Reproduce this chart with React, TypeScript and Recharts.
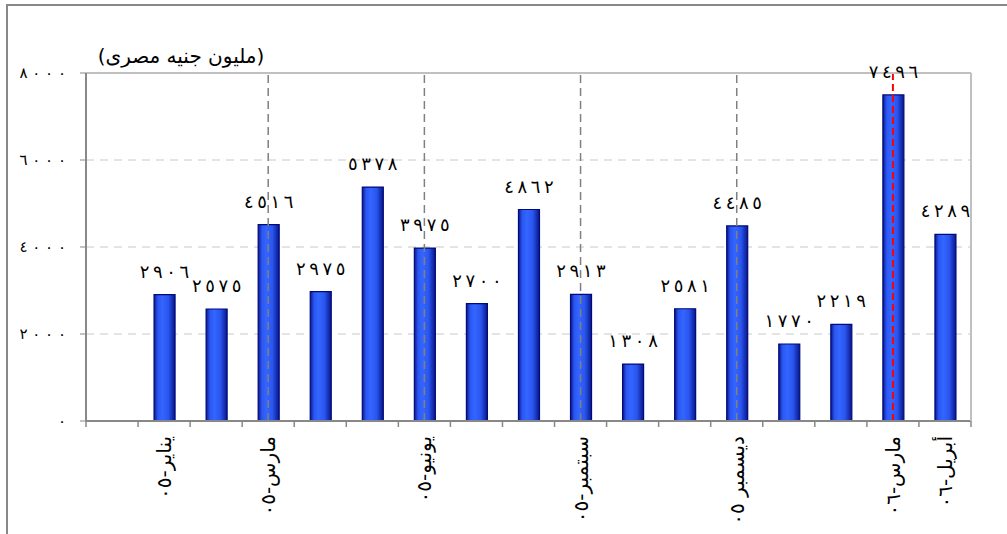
import React from 'react';
import { BarChart, Bar, XAxis, YAxis, CartesianGrid, ReferenceLine, LabelList } from 'recharts';

// first slot is an empty lead-in column, like the original chart
const months = ['pad', '2005-01', '2005-02', '2005-03', '2005-04', '2005-05', '2005-06', '2005-07', '2005-08', '2005-09', '2005-10', '2005-11', '2005-12', '2006-01', '2006-02', '2006-03', '2006-04'];
const monthLabels = ['', 'يناير-٠٥', '', 'مارس-٠٥', '', '', 'يونيو-٠٥', '', '', 'سبتمبر-٠٥', '', '', 'ديسمبر ٠٥', '', '', 'مارس-٠٦', 'أبريل-٠٦'];
const values = [null, 2906, 2575, 4516, 2975, 5378, 3975, 2700, 4862, 2913, 1308, 2581, 4485, 1770, 2219, 7496, 4289];
const yTicks = [0, 2000, 4000, 6000, 8000];
const quarterMarks = ['2005-03', '2005-06', '2005-09', '2005-12'];
const highlightMonth = '2006-03';
const unitTitle = '(مليون جنيه مصرى)';

const FONT = "'DejaVu Sans', sans-serif";

// arabic-indic digits spaced out with non-breaking spaces (recharts wraps on normal ones);
// LRO keeps the digit order, chrome ignores letter-spacing for arabic script
const arabicDigits = (v: any, gap: string) => {
  if (v === null || v === undefined) return '';
  const s = String(v).replace(/\d/g, (d) => '٠١٢٣٤٥٦٧٨٩'[+d]);
  return '\u202D' + s.split('').join(gap) + '\u202C';
};
const axisDigits = (v: any) => arabicDigits(v, '\u00A0');
const labelDigits = (v: any) => arabicDigits(v, '\u2009');

const data = months.map((m, i) => ({ month: m, value: values[i] }));

// category ticks sit between columns (excel style), labels run vertically
const MonthTick = (props: any) => {
  const { x, y, payload, index } = props;
  const half = payload.offset || 0;
  const label = monthLabels[months.indexOf(payload.value)];
  const ty = y + 15;
  return (
    <g>
      <line x1={x - half} x2={x - half} y1={y} y2={y + 6} stroke="#888" strokeWidth={1.5} />
      {index === months.length - 1 && (
        <line x1={x + half} x2={x + half} y1={y} y2={y + 6} stroke="#888" strokeWidth={1.5} />
      )}
      {label && (
        <text
          x={x}
          y={ty}
          dy={7}
          transform={`rotate(-90, ${x}, ${ty})`}
          textAnchor="end"
          fontSize={20}
          fontFamily={FONT}
          fill="#000"
        >
          {label}
        </text>
      )}
    </g>
  );
};

export default function App() {
  return (
    <div style={{ position: 'absolute', left: 0, top: 0, width: 1007, height: 534, background: '#fff' }}>
      <div
        style={{
          position: 'absolute',
          left: 6,
          top: 4,
          right: 0,
          bottom: 0,
          borderTop: '2px solid #888',
          borderLeft: '2px solid #888',
        }}
      />
      <div
        dir="rtl"
        style={{
          position: 'absolute',
          left: 81,
          top: 44,
          width: 200,
          textAlign: 'center',
          fontFamily: FONT,
          fontSize: 20,
          color: '#000',
        }}
      >
        {unitTitle}
      </div>
      <BarChart
        width={1007}
        height={534}
        data={data}
        margin={{ top: 72, right: 35, left: 8, bottom: 13 }}
        barCategoryGap={0}
        style={{ position: 'absolute', left: 0, top: 0 }}
      >
        <defs>
          <linearGradient id="barFill" x1="0" y1="0" x2="1" y2="0">
            <stop offset="0%" stopColor="#0a1a8c" />
            <stop offset="18%" stopColor="#2b56f2" />
            <stop offset="40%" stopColor="#3366ff" />
            <stop offset="68%" stopColor="#2a55ee" />
            <stop offset="100%" stopColor="#07178a" />
          </linearGradient>
        </defs>
        <CartesianGrid horizontal vertical={false} stroke="#c8c8c8" strokeDasharray="8 6" />
        <XAxis
          xAxisId="top"
          orientation="top"
          dataKey="month"
          height={1}
          tick={false}
          tickLine={false}
          axisLine={{ stroke: '#c0c0c0', strokeWidth: 2 }}
        />
        <XAxis
          dataKey="month"
          height={100}
          interval={0}
          tickSize={0}
          tickMargin={0}
          axisLine={{ stroke: '#888', strokeWidth: 2 }}
          tickLine={false}
          tick={<MonthTick />}
        />
        <YAxis
          width={78}
          domain={[0, 8000]}
          ticks={yTicks}
          interval={0}
          tickFormatter={axisDigits}
          tick={{ fontSize: 15, fontFamily: FONT, fill: '#000' }}
          tickSize={6}
          tickMargin={14}
          tickLine={{ stroke: '#888' }}
          axisLine={{ stroke: '#888', strokeWidth: 2 }}
        />
        <YAxis
          yAxisId="right"
          orientation="right"
          width={1}
          domain={[0, 8000]}
          tick={false}
          tickLine={false}
          axisLine={{ stroke: '#c0c0c0', strokeWidth: 2 }}
        />
        <Bar
          dataKey="value"
          barSize={21}
          fill="url(#barFill)"
          stroke="#000a7a"
          strokeWidth={1.2}
          isAnimationActive={false}
        >
          <LabelList
            dataKey="value"
            position="top"
            offset={17}
            formatter={labelDigits}
            style={{ fontSize: 18, fontFamily: FONT, fill: '#000' }}
          />
        </Bar>
        {quarterMarks.map((m) => (
          <ReferenceLine key={m} x={m} stroke="#808080" strokeWidth={1.5} strokeDasharray="8 5" />
        ))}
        <ReferenceLine x={highlightMonth} stroke="#ff0000" strokeWidth={2} strokeDasharray="7 4" />
      </BarChart>
    </div>
  );
}
